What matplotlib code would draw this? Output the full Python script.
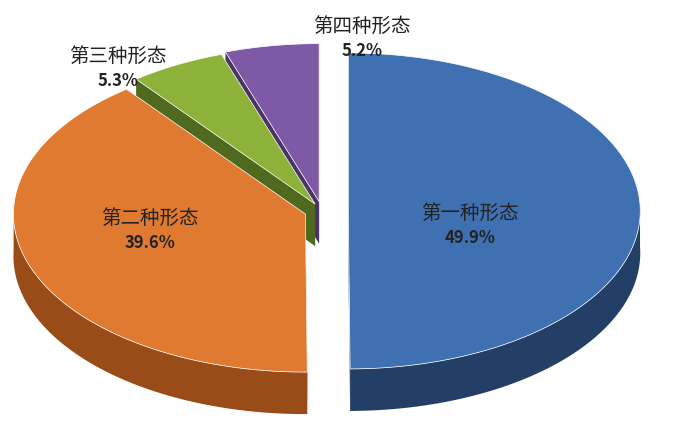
import numpy as np
import matplotlib.pyplot as plt
from matplotlib.patches import Polygon

plt.rcParams['font.family'] = ['Noto Sans CJK SC', 'DejaVu Sans']

labels = ['第一种形态', '第二种形态', '第三种形态', '第四种形态']
values = [49.9, 39.6, 5.3, 5.2]
explode = [0.09, 0.06, 0.05, 0.06]
top_colors = ['#3F70B2', '#DF7A30', '#8CB23A', '#7D59A6']
side_colors = ['#233F66', '#9A4C18', '#4F6A1E', '#4A3466']
label_pos = [(470, 225), (150, 230), (118, 68), (362, 38)]

cx, cy, rx, ry, depth = 322, 212, 292, 158, 42

fig = plt.figure(figsize=(6.77, 4.31), dpi=100)
ax = fig.add_axes([0, 0, 1, 1])
ax.set_xlim(0, 677)
ax.set_ylim(431, 0)
ax.axis('off')

def pt(ox, oy, t, r=1.0, dz=0):
    return (ox + r * rx * np.cos(t), oy - r * ry * np.sin(t) + dz)

total = sum(values)
start = np.pi / 2
slices = []
for v, e in zip(values, explode):
    span = 2 * np.pi * v / total
    a0, a1 = start - span, start  # clockwise
    m = (a0 + a1) / 2
    ox = cx + e * rx * np.cos(m)
    oy = cy - e * ry * np.sin(m)
    slices.append((a0, a1, ox, oy))
    start = a0

# draw back slices first
order = sorted(range(4), key=lambda i: slices[i][3])
for i in order:
    a0, a1, ox, oy = slices[i]
    ts = np.linspace(a0, a1, 120)
    for a in (a0, a1):
        px, py = pt(ox, oy, a)
        wall = [(ox, oy), (px, py), (px, py + depth), (ox, oy + depth)]
        ax.add_patch(Polygon(wall, closed=True, fc=side_colors[i], ec='none'))
    front = ts[np.sin(ts) < 0.05]
    if len(front) > 1:
        upper = [pt(ox, oy, t) for t in front]
        lower = [pt(ox, oy, t, dz=depth) for t in front[::-1]]
        ax.add_patch(Polygon(upper + lower, closed=True, fc=side_colors[i], ec='none'))
    top = [(ox, oy)] + [pt(ox, oy, t) for t in ts]
    ax.add_patch(Polygon(top, closed=True, fc=top_colors[i], ec='white', lw=0.5))

for lab, v, (x, y) in zip(labels, values, label_pos):
    ax.text(x, y - 12, lab, ha='center', va='center', fontsize=14, color='#222222')
    ax.text(x, y + 13, f'{v}%', ha='center', va='center', fontsize=12,
            fontweight='bold', color='#222222')

fig.savefig('out.png', dpi=100)
